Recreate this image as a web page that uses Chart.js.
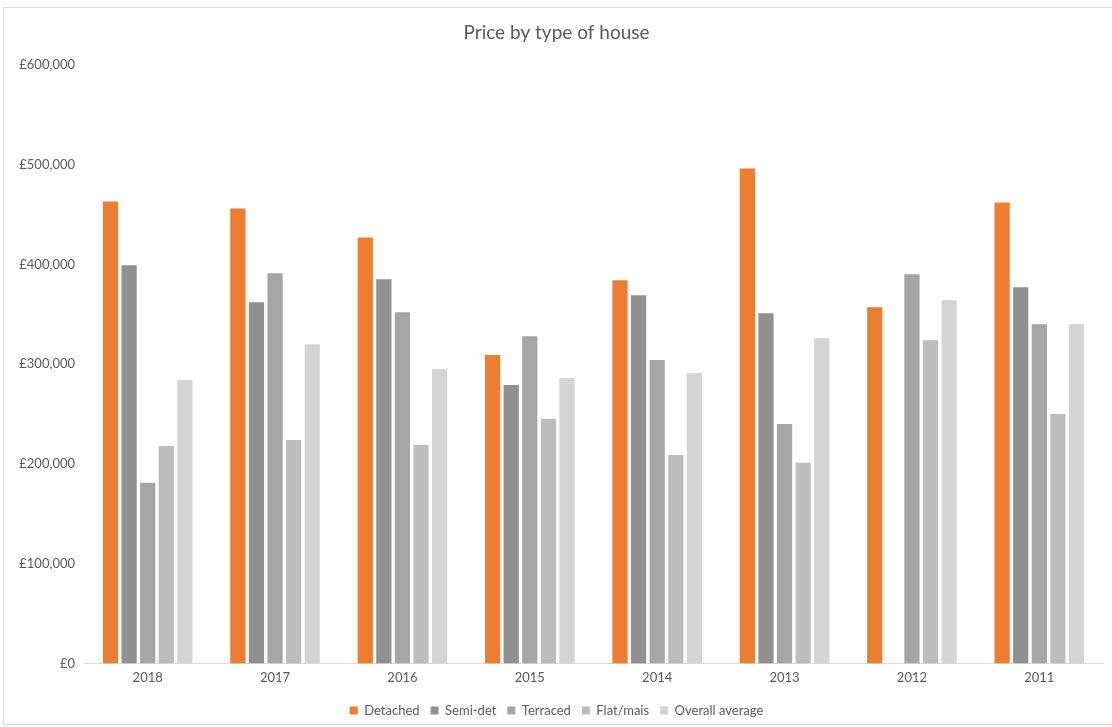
<!DOCTYPE html>
<html lang="en">
<head>
  <meta charset="UTF-8" />
  <title>Price by type of house</title>
  <script src="https://cdn.jsdelivr.net/npm/chart.js"></script>
  <style>
    html, body { margin: 0; padding: 0; background: #fff; overflow: hidden; }
    #frame {
      position: absolute; left: 3px; top: 7px;
      width: 1130px; height: 716px;
      border: 1px solid #d9d9d9;
    }
    #wrap { position: absolute; left: 0; top: 0; width: 1112px; height: 727px; }
  </style>
</head>
<body>
  <div id="frame"></div>
  <div id="wrap"><canvas id="prix"></canvas></div>

<script>
  // annees et prix moyens (en livres)
  const years = ['2018', '2017', '2016', '2015', '2014', '2013', '2012', '2011'];
  const detached = [463000, 456000, 427000, 309000, 384000, 496000, 357000, 462000];
  const semiDet = [399000, 362000, 385000, 279000, 369000, 351000, null, 377000];
  const terraced = [181000, 391000, 352000, 328000, 304000, 240000, 390000, 340000];
  const flatMais = [218000, 224000, 219000, 245000, 209000, 201000, 324000, 250000];
  const overallAvg = [284000, 320000, 295000, 286000, 291000, 326000, 364000, 340000];
  const yTicks = [0, 100000, 200000, 300000, 400000, 500000, 600000];

  const txt = '#595959';
  const police = "Lato, 'Noto Sans', sans-serif";

  function serie(label, data, couleur) {
    return {
      label: label,
      data: data,
      backgroundColor: couleur,
      borderWidth: 0,
      categoryPercentage: 0.73,
      barPercentage: 0.82
    };
  }

  document.addEventListener('DOMContentLoaded', function () {
    const ctx = document.getElementById('prix').getContext('2d');
    new Chart(ctx, {
      type: 'bar',
      data: {
        labels: years,
        datasets: [
          serie('Detached', detached, '#ed7d31'),
          serie('Semi-det', semiDet, '#909090'),
          serie('Terraced', terraced, '#a5a5a5'),
          serie('Flat/mais', flatMais, '#bdbdbd'),
          serie('Overall average', overallAvg, '#d4d4d4')
        ]
      },
      options: {
        responsive: true,
        maintainAspectRatio: false,
        animation: false,
        layout: { padding: { left: 10, right: 9, top: 11, bottom: 0 } },
        plugins: {
          title: {
            display: true,
            text: 'Price by type of house',
            color: txt,
            font: { family: police, size: 19, weight: 'normal' },
            padding: { top: 10, bottom: 21 }
          },
          legend: {
            position: 'bottom',
            labels: {
              color: txt,
              font: { family: police, size: 13 },
              boxWidth: 8,
              boxHeight: 8,
              padding: 11
            }
          },
          tooltip: { enabled: false }
        },
        scales: {
          x: {
            grid: { display: false, drawTicks: false },
            border: { display: true, color: '#d9d9d9', width: 1 },
            ticks: { color: txt, font: { family: police, size: 13 }, padding: 7 }
          },
          y: {
            min: 0,
            max: 600000,
            afterFit: function (s) { s.width = 74; },
            afterBuildTicks: function (s) { s.ticks = yTicks.map(v => ({ value: v })); },
            grid: { display: false, drawTicks: false },
            border: { display: false },
            ticks: {
              color: txt,
              font: { family: police, size: 13 },
              padding: 9,
              callback: v => '£' + v.toLocaleString('en-GB')
            }
          }
        }
      }
    });
  });
</script>
</body>
</html>
